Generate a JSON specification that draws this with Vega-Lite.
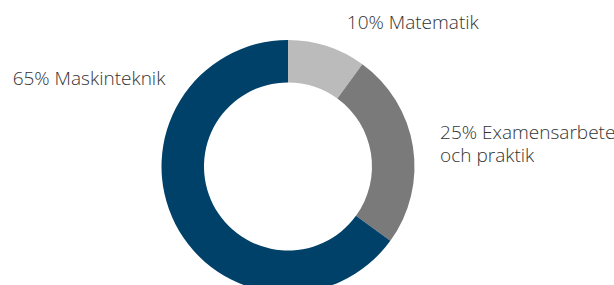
{
  "$schema": "https://vega.github.io/schema/vega-lite/v6.json",
  "autosize": "none",
  "width": 576,
  "height": 333,
  "padding": {"left": 0, "top": 0, "right": 38, "bottom": -48},
  "background": "white",
  "config": {"view": {"stroke": null}},
  "data": {
    "values": [
      {"kategori": "Matematik", "andel": 10, "etikett": "10% Matematik"},
      {"kategori": "Examensarbete och praktik", "andel": 25, "etikett": "25% Examensarbete\noch praktik"},
      {"kategori": "Maskinteknik", "andel": 65, "etikett": "65% Maskinteknik"}
    ]
  },
  "encoding": {
    "theta": {"field": "andel", "type": "quantitative", "stack": true},
    "order": {"field": "andel", "sort": "ascending"}
  },
  "layer": [
    {
      "mark": {"type": "arc", "radius": 126.5, "radius2": 84},
      "encoding": {
        "color": {
          "field": "kategori",
          "type": "nominal",
          "scale": {
            "domain": ["Matematik", "Examensarbete och praktik", "Maskinteknik"],
            "range": ["#BBBBBB", "#7A7A7A", "#00416A"]
          },
          "legend": null
        }
      }
    },
    {
      "mark": {"type": "text", "radius": 145, "align": "left", "baseline": "alphabetic", "dx": 14, "font": "Open Sans", "fontWeight": 300, "fontSize": 19, "color": "#333333"},
      "encoding": {
        "text": {"condition": {"test": "datum.kategori === 'Matematik'", "field": "etikett", "type": "nominal"}, "value": ""}
      }
    },
    {
      "mark": {"type": "text", "radius": 154, "align": "left", "baseline": "alphabetic", "dy": -3.5, "lineBreak": "\n", "lineHeight": 23.5, "font": "Open Sans", "fontWeight": 300, "fontSize": 19, "color": "#333333"},
      "encoding": {
        "text": {"condition": {"test": "datum.kategori === 'Examensarbete och praktik'", "field": "etikett", "type": "nominal"}, "value": ""}
      }
    },
    {
      "mark": {"type": "text", "radius": 150, "align": "right", "baseline": "alphabetic", "dx": 11, "dy": -150, "font": "Open Sans", "fontWeight": 300, "fontSize": 19, "color": "#333333"},
      "encoding": {
        "text": {"condition": {"test": "datum.kategori === 'Maskinteknik'", "field": "etikett", "type": "nominal"}, "value": ""}
      }
    }
  ]
}
